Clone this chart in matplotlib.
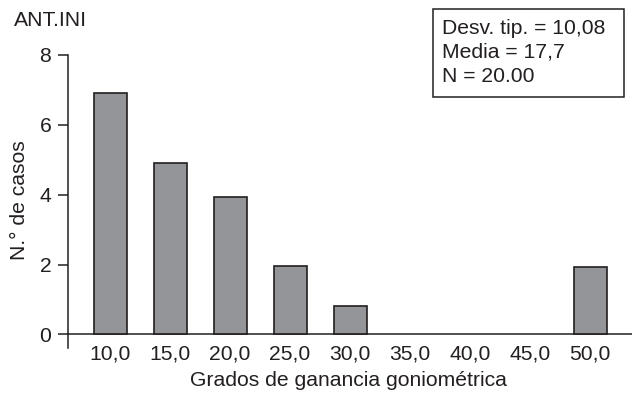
#!/usr/bin/env python3
"""Histogram of goniometric gain (ANT.INI), SPSS-style."""
import matplotlib
matplotlib.use("Agg")
import matplotlib.pyplot as plt

bin_centers = [10, 15, 20, 25, 30, 35, 40, 45, 50]
tick_labels = ["10,0", "15,0", "20,0", "25,0", "30,0", "35,0", "40,0", "45,0", "50,0"]
counts = [6.9, 4.9, 3.93, 1.95, 0.8, 0, 0, 0, 1.92]
y_ticks = [0, 2, 4, 6, 8]
stats_lines = ["Desv. tip. = 10,08", "Media = 17,7", "N = 20.00"]

plt.rcParams["font.family"] = ["Liberation Sans", "DejaVu Sans"]
FS = 15.2
INK = "#231f20"
W, H = 632, 394

fig = plt.figure(figsize=(W / 100, H / 100), dpi=100)
# axes: left edge at px 68, right at 632, bottom px 348, top px 55
ax = fig.add_axes([68 / W, (H - 348) / H, (632 - 68) / W, (348 - 55) / H])

# empty bins draw nothing
shown = [(x, c) for x, c in zip(bin_centers, counts) if c > 0]
ax.bar([x for x, _ in shown], [c for _, c in shown], width=2.75, color="#939598",
       edgecolor=INK, linewidth=1.2, zorder=3)

for s in ("top", "right"):
    ax.spines[s].set_visible(False)
ax.spines["bottom"].set_position(("data", 0))
ax.spines["left"].set_bounds(-0.39, 8)
for s in ("bottom", "left"):
    ax.spines[s].set_linewidth(1.1)
    ax.spines[s].set_color(INK)

ax.set_xlim(6.5, 53.5)
ax.set_ylim(-0.39, 8.0)
ax.set_xticks(bin_centers)
ax.set_xticklabels(tick_labels, fontsize=FS, color=INK)
ax.set_yticks(y_ticks)
ax.set_yticklabels([str(v) for v in y_ticks], fontsize=FS, color=INK)
ax.tick_params(axis="x", length=0, pad=7)
ax.tick_params(axis="y", length=7, width=1.1, color=INK, pad=5)

fig.text(14 / W, 1 - 20 / H, "ANT.INI", fontsize=FS, va="center", ha="left", color=INK)
fig.text(20 / W, 1 - 200 / H, "N.° de casos", fontsize=FS, rotation=90,
         va="center", ha="center", color=INK)
fig.text(348 / W, 1 - 381 / H, "Grados de ganancia goniométrica", fontsize=FS,
         va="center", ha="center", color=INK)

# stats box
box = plt.Rectangle((433 / W, (H - 97) / H), 191 / W, 88 / H, transform=fig.transFigure,
                    fill=False, edgecolor=INK, linewidth=1.1)
fig.patches.append(box)
for i, line in enumerate(stats_lines):
    fig.text(442 / W, 1 - (28 + 24 * i) / H, line, fontsize=FS, va="center", ha="left",
             color=INK)

fig.savefig("out.png", dpi=100)
